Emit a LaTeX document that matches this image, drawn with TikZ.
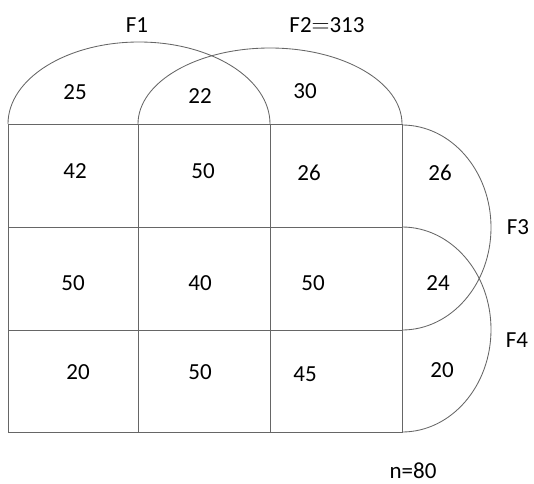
\documentclass[tikz,border=0pt]{standalone}
\usepackage{fontspec}
\setmainfont{Carlito}
\begin{document}
\begin{tikzpicture}[x=1pt,y=1pt,
  ln/.style={draw=black!60,line width=0.85pt},
  lbl/.style={inner sep=0pt,font=\fontsize{23}{27}\selectfont,text=black}]
\useasboundingbox (0,0) rectangle (534,483);
% grid
\draw[ln] (8,51) rectangle (402,359);
\draw[ln] (138,51) -- (138,359);
\draw[ln] (270,51) -- (270,359);
\draw[ln] (8,256) -- (402,256);
\draw[ln] (8,153) -- (402,153);
% top arcs
\draw[ln] (8,359) arc[start angle=180,end angle=0,x radius=131pt,y radius=82pt];
\draw[ln] (138,359) arc[start angle=180,end angle=0,x radius=132pt,y radius=76pt];
% right arcs
\draw[ln] (402,358) arc[start angle=90,end angle=-90,x radius=89pt,y radius=102.5pt];
\draw[ln] (402,256) arc[start angle=90,end angle=-90,x radius=89pt,y radius=102.5pt];
% labels
\node[lbl] (f1) at (137,458) {F1};
\node[lbl] (f2) at (327,458) {F2$=$313};
\node[lbl] (a25) at (75,391) {25};
\node[lbl] (a22) at (200,387) {22};
\node[lbl] (a30) at (305,392) {30};
\node[lbl] (c11) at (75,312) {42};
\node[lbl] (c12) at (203,312) {50};
\node[lbl] (c13) at (309,310) {26};
\node[lbl] (c21) at (73,200) {50};
\node[lbl] (c22) at (200,200) {40};
\node[lbl] (c23) at (313,200) {50};
\node[lbl] (c31) at (78,111) {20};
\node[lbl] (c32) at (200,111) {50};
\node[lbl] (c33) at (305,109) {45};
\node[lbl] (r1) at (440,310) {26};
\node[lbl] (r2) at (438,200) {24};
\node[lbl] (r3) at (442,113) {20};
\node[lbl] (f3) at (518,256) {F3};
\node[lbl] (f4) at (517,143) {F4};
\node[lbl] (n) at (413,12) {n=80};
\end{tikzpicture}
\end{document}
